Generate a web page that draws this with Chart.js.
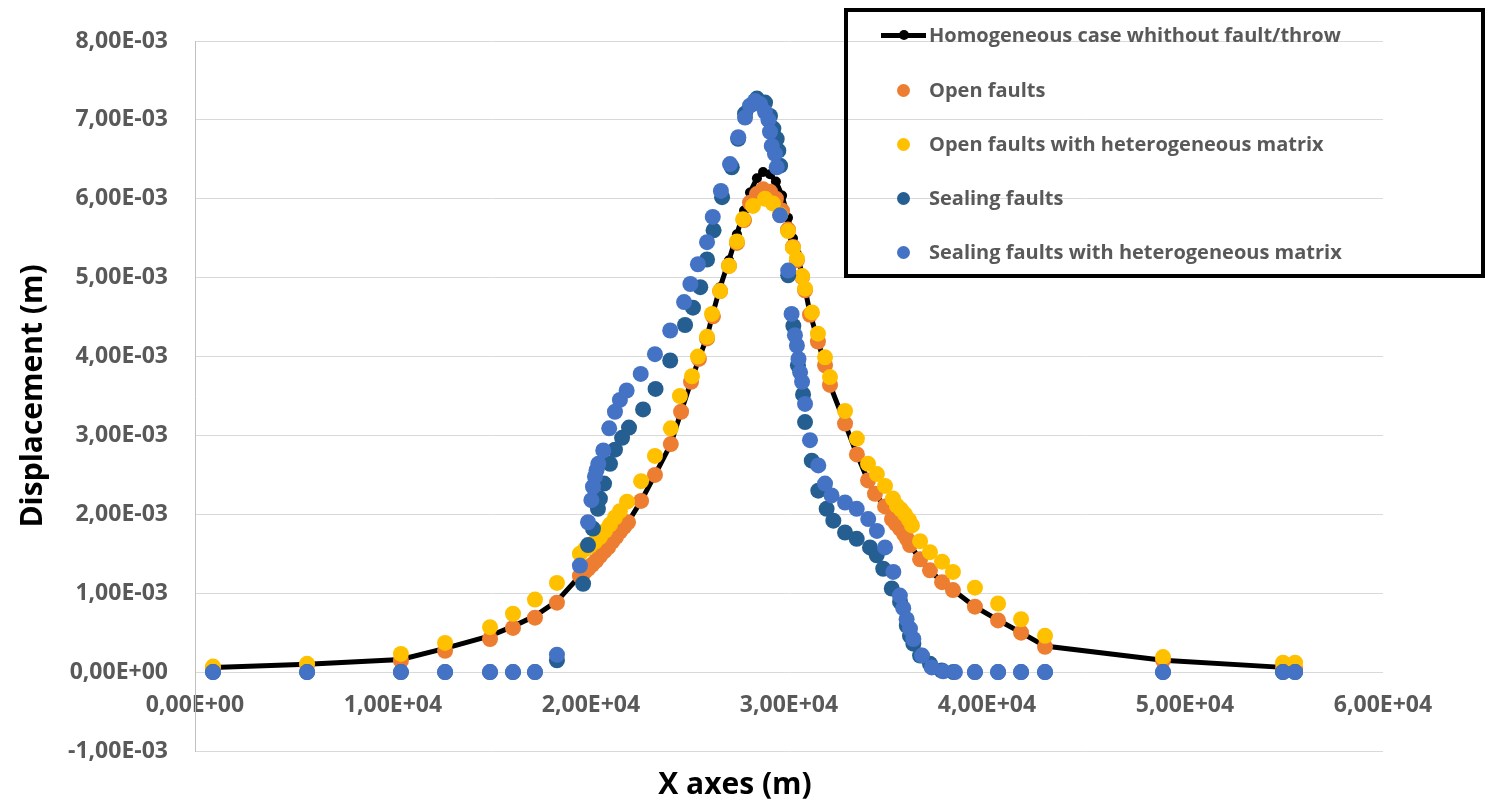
<!DOCTYPE html>
<html lang="en">
<head>
<meta charset="UTF-8">
<title>Displacement</title>
<script src="https://cdn.jsdelivr.net/npm/chart.js"></script>
<style>
  html, body { margin: 0; padding: 0; background: #ffffff; }
  #wrap { position: relative; width: 1489px; height: 803px; }
  #legend {
    position: absolute; left: 844px; top: 8px; width: 641px; height: 270px;
    box-sizing: border-box; border: 4px solid #000;
    font-family: 'Open Sans', sans-serif; font-weight: bold; font-size: 20px; color: #595959;
  }
  .item { position: absolute; left: 0; height: 30px; width: 100%; }
  .sym { position: absolute; top: 15px; }
  .txt { position: absolute; left: 81px; top: 0; line-height: 30px; white-space: nowrap; }
</style>
</head>
<body>
<div id="wrap">
  <canvas id="chart" width="1489" height="803"></canvas>
  <div id="legend"></div>
</div>
<script>
// Homogeneous case (black line)
const homX = [910, 5660, 10400, 12630, 14900, 16060, 17170, 18280, 19440, 19650, 19850, 20050, 20250, 20450, 20660, 20860, 21060, 21260, 21460, 21670, 21870, 22530, 23230, 24030, 24550, 25050, 25450, 25860, 26160, 26520, 26970, 27370, 27730, 28030, 28380, 28690, 29040, 29340, 29650, 29950, 30200, 30400, 30660, 30810, 31060, 31460, 31820, 32070, 32830, 33430, 33990, 34340, 34850, 35200, 35400, 35610, 35810, 35960, 36110, 36620, 37120, 37730, 38280, 39390, 40560, 41720, 42930, 48890, 54950];
const homY = [0.06e-3, 0.10e-3, 0.16e-3, 0.30e-3, 0.46e-3, 0.58e-3, 0.71e-3, 0.90e-3, 1.22e-3, 1.26e-3, 1.31e-3, 1.36e-3, 1.41e-3, 1.47e-3, 1.53e-3, 1.58e-3, 1.65e-3, 1.71e-3, 1.78e-3, 1.84e-3, 1.90e-3, 2.17e-3, 2.50e-3, 2.89e-3, 3.30e-3, 3.68e-3, 3.97e-3, 4.25e-3, 4.55e-3, 4.88e-3, 5.22e-3, 5.55e-3, 5.85e-3, 6.08e-3, 6.26e-3, 6.34e-3, 6.31e-3, 6.22e-3, 6.04e-3, 5.76e-3, 5.50e-3, 5.30e-3, 5.05e-3, 4.86e-3, 4.55e-3, 4.20e-3, 3.89e-3, 3.64e-3, 3.15e-3, 2.76e-3, 2.43e-3, 2.26e-3, 2.10e-3, 1.94e-3, 1.88e-3, 1.82e-3, 1.75e-3, 1.69e-3, 1.61e-3, 1.43e-3, 1.29e-3, 1.14e-3, 1.04e-3, 0.83e-3, 0.66e-3, 0.50e-3, 0.33e-3, 0.15e-3, 0.06e-3];

// Open faults (orange)
const openX = [910, 5660, 10400, 12630, 14900, 16060, 17170, 18280, 19440, 19650, 19850, 20050, 20250, 20450, 20660, 20860, 21060, 21260, 21460, 21670, 21870, 22530, 23230, 24030, 24550, 25050, 25450, 25860, 26160, 26520, 26970, 27370, 27730, 28030, 28380, 28690, 29040, 29340, 29650, 29950, 30200, 30400, 30660, 30810, 31060, 31460, 31820, 32070, 32830, 33430, 33990, 34340, 34850, 35200, 35400, 35610, 35810, 35960, 36110, 36620, 37120, 37730, 38280, 39390, 40560, 41720, 42930, 48890, 54950, 55560];
const openY = [0.05e-3, 0.09e-3, 0.145e-3, 0.27e-3, 0.42e-3, 0.56e-3, 0.69e-3, 0.88e-3, 1.22e-3, 1.26e-3, 1.31e-3, 1.36e-3, 1.41e-3, 1.47e-3, 1.53e-3, 1.58e-3, 1.65e-3, 1.71e-3, 1.78e-3, 1.84e-3, 1.90e-3, 2.17e-3, 2.50e-3, 2.89e-3, 3.30e-3, 3.68e-3, 3.97e-3, 4.23e-3, 4.51e-3, 4.83e-3, 5.15e-3, 5.44e-3, 5.73e-3, 5.95e-3, 6.06e-3, 6.12e-3, 6.09e-3, 6.00e-3, 5.85e-3, 5.61e-3, 5.39e-3, 5.22e-3, 5.01e-3, 4.84e-3, 4.53e-3, 4.19e-3, 3.89e-3, 3.64e-3, 3.15e-3, 2.76e-3, 2.43e-3, 2.26e-3, 2.10e-3, 1.94e-3, 1.88e-3, 1.82e-3, 1.75e-3, 1.69e-3, 1.61e-3, 1.43e-3, 1.29e-3, 1.14e-3, 1.04e-3, 0.83e-3, 0.655e-3, 0.50e-3, 0.32e-3, 0.15e-3, 0.06e-3, 0.05e-3];

// Open faults with heterogeneous matrix (yellow)
const openHetX = [910, 5660, 10400, 12630, 14900, 16060, 17170, 18280, 19440, 19700, 19950, 20200, 20450, 20710, 20960, 21210, 21460, 21820, 22530, 23230, 24030, 24490, 25100, 25400, 25860, 26110, 26520, 26970, 27370, 27680, 28180, 28790, 29190, 29550, 29950, 30200, 30400, 30660, 30810, 31160, 31460, 31820, 32070, 32830, 33430, 33990, 34440, 34850, 35250, 35450, 35660, 35860, 36060, 36210, 36620, 37120, 37730, 38280, 39390, 40560, 41720, 42930, 48890, 54950, 55560];
const openHetY = [0.07e-3, 0.105e-3, 0.23e-3, 0.37e-3, 0.57e-3, 0.74e-3, 0.92e-3, 1.13e-3, 1.50e-3, 1.56e-3, 1.60e-3, 1.65e-3, 1.71e-3, 1.79e-3, 1.87e-3, 1.96e-3, 2.04e-3, 2.16e-3, 2.42e-3, 2.74e-3, 3.09e-3, 3.50e-3, 3.75e-3, 4.00e-3, 4.25e-3, 4.54e-3, 4.83e-3, 5.15e-3, 5.46e-3, 5.74e-3, 5.91e-3, 6.00e-3, 5.94e-3, 5.80e-3, 5.59e-3, 5.38e-3, 5.24e-3, 5.02e-3, 4.86e-3, 4.56e-3, 4.29e-3, 3.99e-3, 3.74e-3, 3.31e-3, 2.96e-3, 2.64e-3, 2.51e-3, 2.36e-3, 2.20e-3, 2.11e-3, 2.06e-3, 2.00e-3, 1.93e-3, 1.86e-3, 1.66e-3, 1.52e-3, 1.40e-3, 1.27e-3, 1.07e-3, 0.87e-3, 0.67e-3, 0.46e-3, 0.19e-3, 0.12e-3, 0.12e-3];

// Sealing faults (dark blue)
const sealX = [910, 5660, 10400, 12630, 14900, 16060, 17170, 18280, 19600, 19850, 20100, 20350, 20450, 20660, 20960, 21210, 21570, 21920, 22630, 23260, 24000, 24750, 25150, 25520, 25860, 26190, 26620, 27110, 27430, 27780, 28380, 28790, 29040, 29210, 29380, 29460, 29550, 29960, 30220, 30450, 30710, 30810, 31150, 31480, 31900, 32240, 32830, 33420, 34090, 34430, 34760, 35190, 35610, 35950, 36110, 36280, 36620, 37120, 37710, 38300, 39390, 40560, 41720, 42930, 48890, 54950, 55560];
const sealY = [0, 0, 0, 0, 0, 0, 0, 0.15e-3, 1.12e-3, 1.61e-3, 1.82e-3, 2.07e-3, 2.20e-3, 2.39e-3, 2.64e-3, 2.82e-3, 2.97e-3, 3.10e-3, 3.33e-3, 3.59e-3, 3.95e-3, 4.40e-3, 4.62e-3, 4.88e-3, 5.23e-3, 5.60e-3, 6.02e-3, 6.40e-3, 6.76e-3, 7.08e-3, 7.27e-3, 7.22e-3, 7.05e-3, 6.89e-3, 6.76e-3, 6.61e-3, 6.42e-3, 5.03e-3, 4.39e-3, 3.89e-3, 3.52e-3, 3.17e-3, 2.68e-3, 2.30e-3, 2.07e-3, 1.92e-3, 1.77e-3, 1.69e-3, 1.58e-3, 1.48e-3, 1.31e-3, 1.06e-3, 0.89e-3, 0.59e-3, 0.46e-3, 0.36e-3, 0.21e-3, 0.105e-3, 0.02e-3, 0, 0, 0, 0, 0, 0, 0, 0];

// Sealing faults with heterogeneous matrix (light blue)
const sealHetX = [910, 5660, 10400, 12630, 14900, 16060, 17170, 18280, 19440, 19850, 20020, 20100, 20200, 20280, 20370, 20620, 20920, 21210, 21460, 21800, 22510, 23230, 24000, 24700, 25020, 25400, 25860, 26150, 26560, 27020, 27440, 27780, 28030, 28280, 28540, 28790, 28960, 29040, 29130, 29290, 29380, 29550, 29960, 30130, 30300, 30400, 30480, 30560, 30660, 30810, 31060, 31480, 31820, 32150, 32830, 33420, 34000, 34440, 34850, 35270, 35600, 35770, 35940, 36110, 36280, 36720, 37210, 37790, 38380, 39390, 40560, 41720, 42930, 48890, 54950, 55560];
const sealHetY = [0, 0, 0, 0, 0, 0, 0, 0.22e-3, 1.35e-3, 1.90e-3, 2.18e-3, 2.35e-3, 2.48e-3, 2.56e-3, 2.64e-3, 2.81e-3, 3.09e-3, 3.30e-3, 3.45e-3, 3.57e-3, 3.78e-3, 4.03e-3, 4.33e-3, 4.69e-3, 4.92e-3, 5.17e-3, 5.45e-3, 5.77e-3, 6.10e-3, 6.44e-3, 6.78e-3, 7.03e-3, 7.18e-3, 7.24e-3, 7.20e-3, 7.10e-3, 7.00e-3, 6.85e-3, 6.67e-3, 6.57e-3, 6.40e-3, 5.79e-3, 5.09e-3, 4.54e-3, 4.27e-3, 4.14e-3, 3.97e-3, 3.80e-3, 3.68e-3, 3.40e-3, 2.94e-3, 2.62e-3, 2.39e-3, 2.24e-3, 2.15e-3, 2.07e-3, 1.94e-3, 1.79e-3, 1.58e-3, 1.27e-3, 0.97e-3, 0.81e-3, 0.67e-3, 0.55e-3, 0.42e-3, 0.21e-3, 0.06e-3, 0.01e-3, 0, 0, 0, 0, 0, 0, 0, 0];

const xTicks = { min: 0, max: 60000, step: 10000 };
const yTicks = { min: -0.001, max: 0.008, step: 0.001 };

function pts(xs, ys) {
  return xs.map((x, i) => ({ x: x, y: ys[i] }));
}

// 1,00E+04 style labels
function sci(v) {
  if (Math.abs(v) < 1e-12) return '0,00E+00';
  let e = Math.floor(Math.log10(Math.abs(v)));
  let m = v / Math.pow(10, e);
  if (Math.abs(m) >= 9.995) { m /= 10; e += 1; }
  const es = (e < 0 ? '-' : '+') + String(Math.abs(e)).padStart(2, '0');
  return m.toFixed(2).replace('.', ',') + 'E' + es;
}

Chart.defaults.font.family = "'Open Sans', sans-serif";

const tickFont = { size: 23, weight: 'bold' };

const chart = new Chart(document.getElementById('chart').getContext('2d'), {
  type: 'scatter',
  data: {
    datasets: [
      { label: 'Homogeneous case whithout fault/throw', data: pts(homX, homY), showLine: true,
        borderColor: '#000000', backgroundColor: '#000000', borderWidth: 5, pointRadius: 5, pointBorderWidth: 0, order: 5 },
      { label: 'Open faults', data: pts(openX, openY),
        backgroundColor: '#ED7D31', borderColor: '#ED7D31', pointRadius: 8, pointBorderWidth: 0, order: 4 },
      { label: 'Open faults with heterogeneous matrix', data: pts(openHetX, openHetY),
        backgroundColor: '#FFC000', borderColor: '#FFC000', pointRadius: 8, pointBorderWidth: 0, order: 3 },
      { label: 'Sealing faults', data: pts(sealX, sealY),
        backgroundColor: '#255E91', borderColor: '#255E91', pointRadius: 8, pointBorderWidth: 0, order: 2 },
      { label: 'Sealing faults with heterogeneous matrix', data: pts(sealHetX, sealHetY),
        backgroundColor: '#4472C4', borderColor: '#4472C4', pointRadius: 8, pointBorderWidth: 0, order: 1 }
    ]
  },
  options: {
    responsive: false,
    animation: false,
    layout: { padding: { left: 0, right: 19, top: 41, bottom: 0 } },
    plugins: {
      legend: { display: false },
      tooltip: { enabled: false },
      title: {
        display: true, text: 'X axes (m)', position: 'bottom', color: '#000000',
        font: { size: 30, weight: 'bold' }, padding: { top: 16, bottom: 0 }
      }
    },
    scales: {
      x: {
        type: 'linear', position: { y: 0 },
        min: xTicks.min, max: xTicks.max,
        ticks: { stepSize: xTicks.step, callback: sci, color: '#595959', font: tickFont, padding: 20, maxRotation: 0 },
        grid: { display: false, drawTicks: false },
        border: { display: false }
      },
      y: {
        min: yTicks.min, max: yTicks.max,
        ticks: { stepSize: yTicks.step, callback: sci, color: '#595959', font: tickFont, padding: 27 },
        grid: { color: '#d9d9d9', lineWidth: 1, drawTicks: false },
        border: { display: true, color: '#c0c0c0', width: 1 },
        title: { display: true, text: 'Displacement (m)', color: '#000000', font: { size: 30, weight: 'bold' }, padding: { top: 15, bottom: 0 } },
        afterFit: (s) => { s.width = 195; }
      },
      // empty right margin so the bottom title sits where the original one does
      yRight: {
        position: 'right', display: true,
        ticks: { display: false }, grid: { display: false, drawTicks: false }, border: { display: false },
        afterFit: (s) => { s.width = 87; }
      }
    }
  }
});

// legend box built from the datasets
const rowCenters = [23, 78, 132, 186, 240];
const legend = document.getElementById('legend');
chart.data.datasets.forEach((ds, i) => {
  const item = document.createElement('div');
  item.className = 'item';
  item.style.top = (rowCenters[i] - 15) + 'px';
  let sym;
  if (ds.showLine) {
    sym = '<div class="sym" style="left:33px;width:45px;height:5px;margin-top:-2.5px;background:#000"></div>' +
          '<div class="sym" style="left:51px;width:10px;height:10px;margin-top:-5px;border-radius:50%;background:#000"></div>';
  } else {
    sym = '<div class="sym" style="left:49px;width:13px;height:13px;margin-top:-6.5px;border-radius:50%;background:' + ds.backgroundColor + '"></div>';
  }
  item.innerHTML = sym + '<div class="txt">' + ds.label + '</div>';
  legend.appendChild(item);
});
</script>
</body>
</html>
